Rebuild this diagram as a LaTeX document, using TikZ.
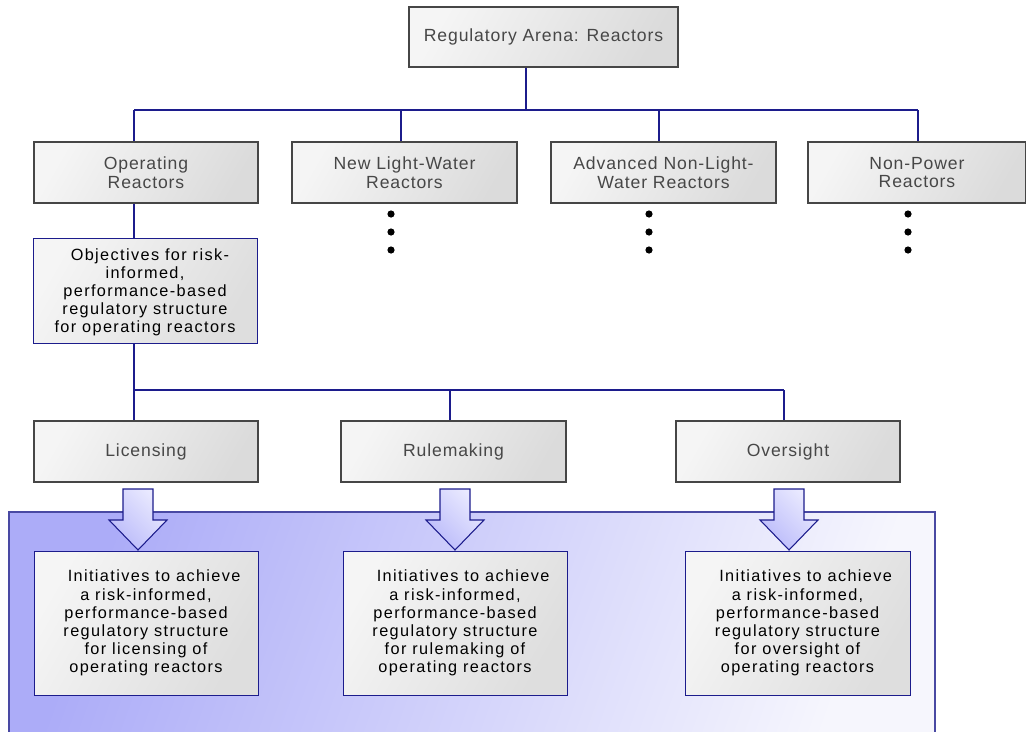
\documentclass[tikz,border=0pt]{standalone}
\usepackage{fontspec}
\setmainfont{Liberation Sans}
\usetikzlibrary{positioning}

\definecolor{linkblue}{RGB}{28,28,140}
\definecolor{edgegrey}{RGB}{70,70,70}
\definecolor{panelblue}{RGB}{172,172,248}
\definecolor{panelwhite}{RGB}{246,246,253}
\definecolor{arrowblue}{RGB}{186,186,250}

\def\px{0.75pt}

\tikzset{
    greybox/.style={draw=edgegrey, line width=0.9pt, left color=black!4, right color=black!14,
        shading angle=60, align=center, text=black!72,
        font=\fontsize{13.2}{14}\selectfont\addfontfeature{LetterSpace=5},
        minimum width=224*\px, minimum height=61*\px, inner sep=0pt},
    bluebox/.style={draw=linkblue, line width=0.7pt, left color=black!4, right color=black!13,
        shading angle=60, align=center, text=black,
        font=\fontsize{12.2}{13.6}\selectfont\addfontfeature{LetterSpace=8.5},
        minimum width=224*\px, inner sep=0pt},
    conn/.style={draw=linkblue, line width=0.8pt},
    blockarrow/.style={draw=linkblue, line width=0.8pt, left color=arrowblue, right color=white!92!blue,
        shading angle=135, line join=miter}
}

\begin{document}
\begin{tikzpicture}[x=0.75pt, y=-0.75pt] % 1 unit = 1 px of the drawing

    \useasboundingbox (0,0) rectangle (1026,732);

    % Shaded panel behind the initiatives
    \shade[left color=panelblue, right color=panelwhite, shading angle=70]
        (9,512) rectangle (935,732);
    \draw[draw=linkblue!80, line width=0.8pt] (9,732) -- (9,512) -- (935,512) -- (935,732);

    % Top of the tree
    \node[greybox, minimum width=269*\px, minimum height=60*\px] (top) at (543.5,37)
        {Regulatory Arena:  Reactors};

    % Reactor categories
    \node[greybox] (opr) at (146,172.5) {Operating\\Reactors};
    \node[greybox, minimum width=225*\px] (nlw) at (404.5,172.5) {New Light-Water\\Reactors};
    \node[greybox, minimum width=225*\px] (adv) at (663.5,172.5) {Advanced Non-Light-\\Water Reactors};
    \node[greybox, minimum width=218*\px] (npr) at (917,172.5) {Non-Power\\Reactors};

    % Bus from the top box to the categories
    \coordinate (hub) at (526,110);
    \draw[conn] (hub |- top.south) -- (hub);
    \foreach \n/\x in {opr/134, nlw/401, adv/659, npr/918} {
        \coordinate (\n-tap) at (\x,110);
        \draw[conn] (\n-tap) -- (\n-tap |- \n.north);
    }
    \draw[conn] (opr-tap) -- (npr-tap);

    % Continuation dots under the other categories
    \foreach \x in {391,649,908} {
        \foreach \y in {214,232,250} {
            \fill (\x,\y) circle (3.6);
        }
    }

    % Objectives for operating reactors
    \node[bluebox, minimum height=105*\px, text depth=0pt] (obj) at (145,290.5)
        {\hspace*{0.6em}Objectives for risk-\\informed,\\performance-based\\regulatory structure\\for operating reactors};
    \draw[conn] (opr-tap |- opr.south) -- (opr-tap |- obj.north);

    % Licensing, rulemaking, oversight
    \node[greybox] (lic) at (146,451.5) {Licensing};
    \node[greybox, minimum width=225*\px] (rul) at (453.5,451.5) {Rulemaking};
    \node[greybox] (ovs) at (788,451.5) {Oversight};

    \coordinate (fork) at (134,390);
    \draw[conn] (fork |- obj.south) -- (fork);
    \foreach \n/\x in {lic/134, rul/450, ovs/784} {
        \coordinate (\n-tap) at (\x,390);
        \draw[conn] (\n-tap) -- (\n-tap |- \n.north);
    }
    \draw[conn] (lic-tap) -- (ovs-tap);

    % Initiatives
    \node[bluebox, minimum height=144*\px] (ini1) at (146,623)
        {\hspace*{1em}Initiatives to achieve\\a risk-informed,\\performance-based\\regulatory structure\\for licensing of\\operating reactors};
    \node[bluebox, minimum height=144*\px] (ini2) at (455,623)
        {\hspace*{1em}Initiatives to achieve\\a risk-informed,\\performance-based\\regulatory structure\\for rulemaking of\\operating reactors};
    \node[bluebox, minimum width=225*\px, minimum height=144*\px] (ini3) at (797.5,623)
        {\hspace*{1em}Initiatives to achieve\\a risk-informed,\\performance-based\\regulatory structure\\for oversight of\\operating reactors};

    % Block arrows into the initiatives
    \foreach \x in {138,455,789} {
        \draw[blockarrow] ({\x-15},489) -- ({\x+15},489) -- ({\x+15},520) -- ({\x+29},520)
            -- (\x,550) -- ({\x-29},520) -- ({\x-15},520) -- cycle;
    }

\end{tikzpicture}
\end{document}
